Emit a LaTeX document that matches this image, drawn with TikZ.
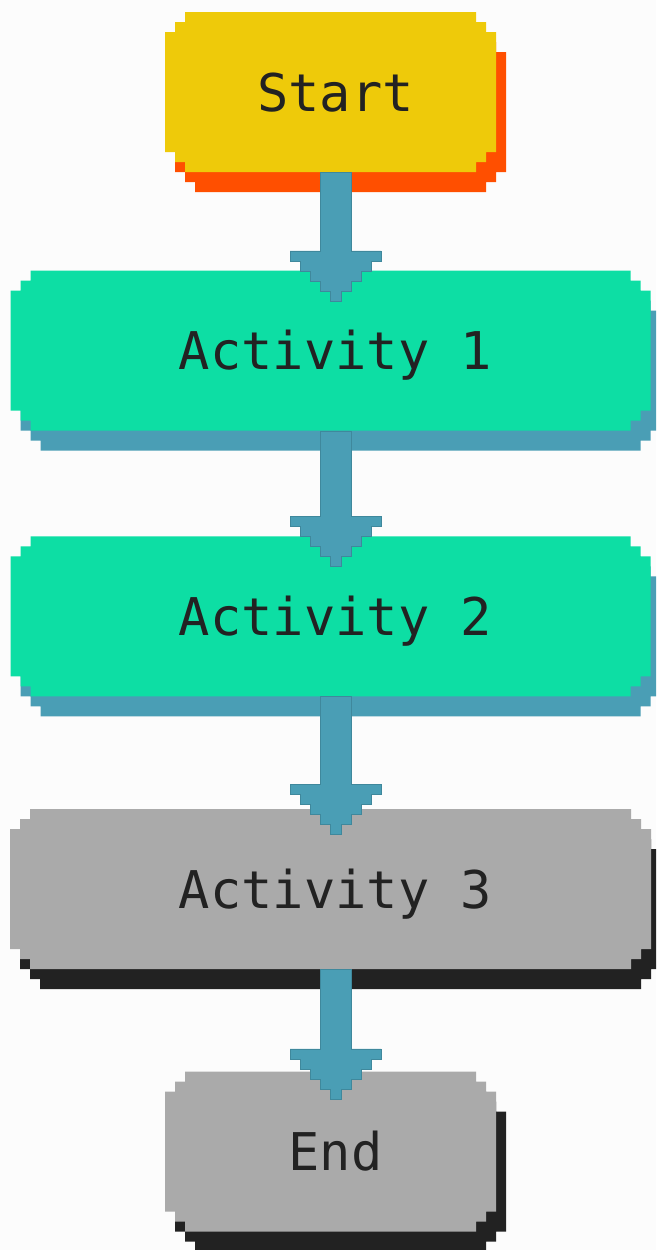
\documentclass[tikz,border=0pt]{standalone}
\usepackage{fontspec}
\setmonofont{DejaVu Sans Mono}
\usetikzlibrary{calc}
\definecolor{bgc}{HTML}{FCFCFC}
\definecolor{yel}{HTML}{EECA0A}
\definecolor{orng}{HTML}{FF4F00}
\definecolor{grn}{HTML}{0DDEA4}
\definecolor{blu}{HTML}{4A9EB5}
\definecolor{bludk}{HTML}{3F889C}
\definecolor{gry}{HTML}{AAAAAA}
\definecolor{ink}{HTML}{222222}

\newcommand\pixfill[5]{\fill[#5] (#1+20,#2) -- (#3-20,#2) -- (#3-20,#2+10) -- (#3-10,#2+10) -- (#3-10,#2+20) -- (#3,#2+20) -- (#3,#4-20) -- (#3-10,#4-20) -- (#3-10,#4-10) -- (#3-20,#4-10) -- (#3-20,#4) -- (#1+20,#4) -- (#1+20,#4-10) -- (#1+10,#4-10) -- (#1+10,#4-20) -- (#1,#4-20) -- (#1,#2+20) -- (#1+10,#2+20) -- (#1+10,#2+10) -- (#1+20,#2+10) -- cycle;}

\newcommand\pixbox[7]{%
 \pgfmathsetmacro\xa{#2-5-#4/2}\pgfmathsetmacro\xb{#2-5+#4/2}%
 \pgfmathsetmacro\ya{#3-80}\pgfmathsetmacro\yb{#3+80}%
 \pixfill{\xa+10}{\ya+20}{\xb+10}{\yb+20}{#6}%
 \pixfill{\xa}{\ya}{\xb}{\yb}{#5}%
 \node[lbl, minimum width=#4] (#1) at (#2,#3) {#7};}

\newcommand\pixarrow[3]{%
 \filldraw[arr] ($(#1.south)+(-15.5,0)$) -- ($(#2.north)+(-15.5,#3)$) -- ++(-30,0) -- ++(0,10) -- ++(10,0) -- ++(0,10) -- ++(10,0) -- ++(0,10) -- ++(10,0) -- ++(0,10) -- ++(10,0) -- ++(0,10) -- ++(11,0) -- ++(0,-10) -- ++(10,0) -- ++(0,-10) -- ++(10,0) -- ++(0,-10) -- ++(10,0) -- ++(0,-10) -- ++(10,0) -- ++(0,-10) -- ++(-30,0) -- ($(#1.south)+(15.5,0)$) -- cycle;}

\tikzset{
 lbl/.style={inner sep=0pt, minimum height=160, text height=38pt, text depth=0pt,
   font=\ttfamily\fontsize{52}{52}\selectfont, text=ink},
 arr/.style={fill=blu, draw=bludk, line width=0.6pt, line join=miter},
}

\begin{document}
\begin{tikzpicture}[x=1pt, y=-1pt]
\useasboundingbox (0,0) rectangle (656,1250);
\clip (0,0) rectangle (656,1250);
\fill[bgc] (0,0) rectangle (656,1250);

\pixbox{start}{335.5}{92}{331}{yel}{orng}{Start}
\pixbox{a1}{335.5}{350.7}{640}{grn}{blu}{Activity 1}
\pixbox{a2}{335.5}{616.3}{640}{grn}{blu}{Activity 2}
\pixbox{a3}{335.5}{889.2}{641}{gry}{ink}{Activity 3}
\pixbox{end}{335.5}{1151.5}{331}{gry}{ink}{End}

\pixarrow{start}{a1}{-19.7}
\pixarrow{a1}{a2}{-19.6}
\pixarrow{a2}{a3}{-24.7}
\pixarrow{a3}{end}{-22.5}
\end{tikzpicture}
\end{document}
